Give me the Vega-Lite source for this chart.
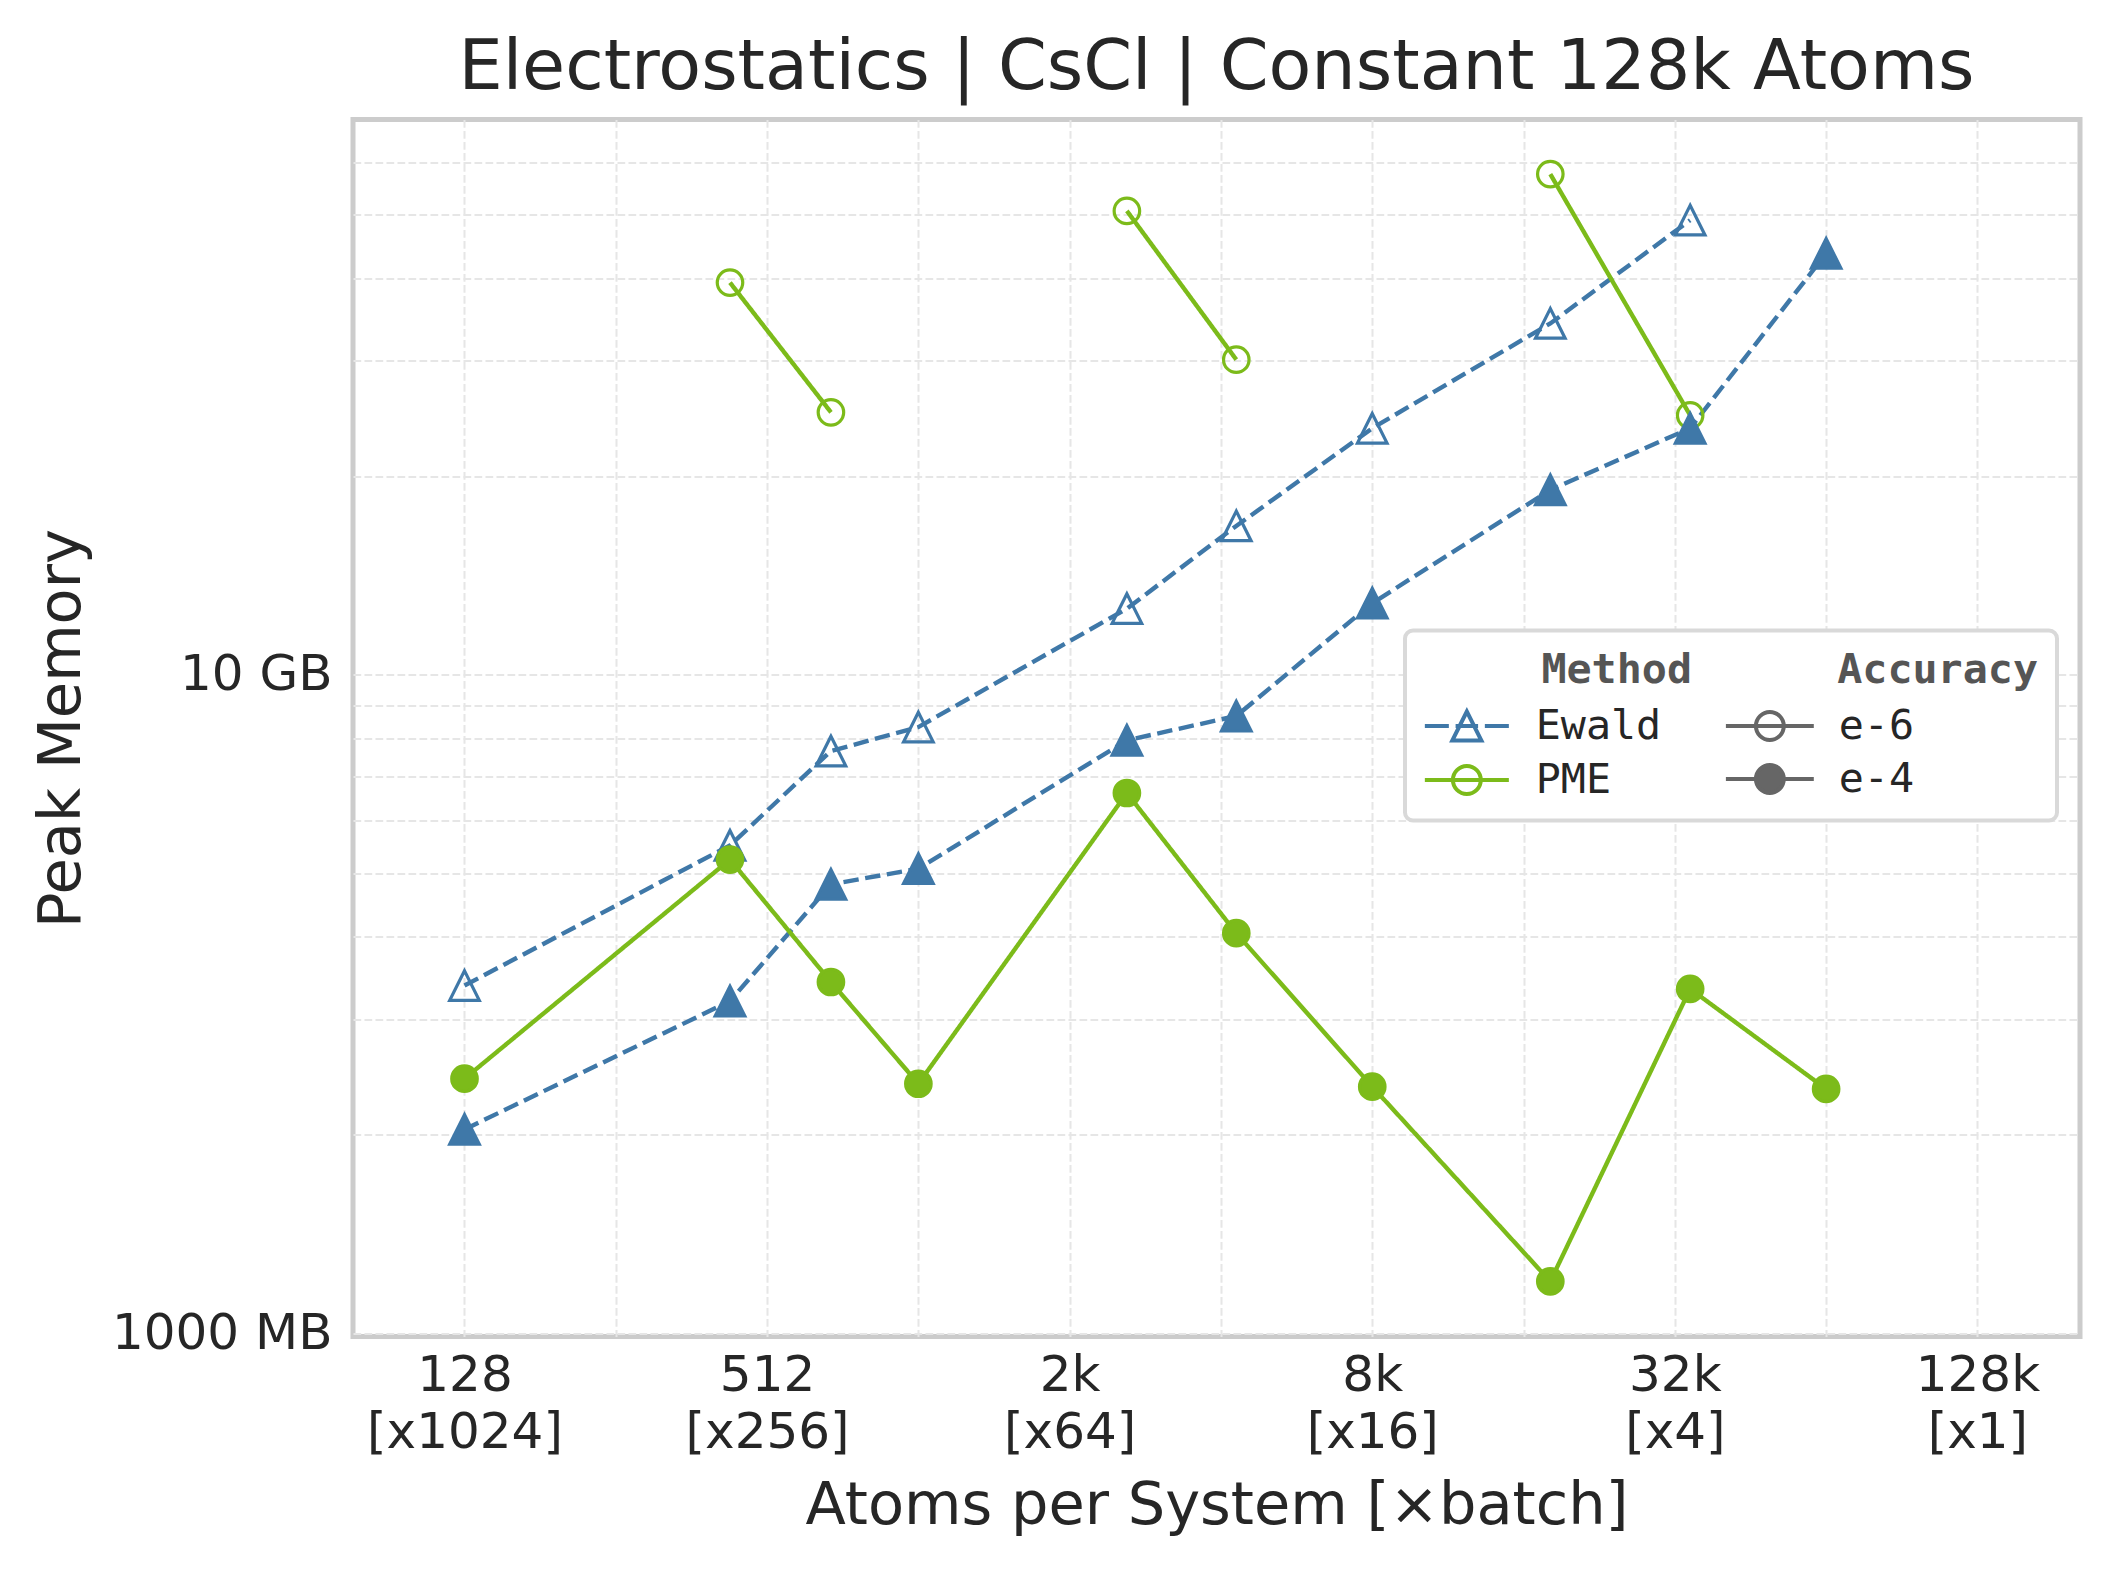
{
  "$schema": "https://vega.github.io/schema/vega-lite/v6.json",
  "width": 1727,
  "height": 1217,
  "autosize": {"type": "none"},
  "padding": {"left": 353, "top": 119.5, "right": 38, "bottom": 235.5},
  "background": "white",
  "title": {
    "text": "Electrostatics | CsCl | Constant 128k Atoms",
    "font": "DejaVu Sans",
    "fontSize": 70,
    "fontWeight": "normal",
    "color": "#262626",
    "anchor": "middle",
    "frame": "group",
    "baseline": "alphabetic",
    "offset": 28,
    "dy": 67
  },
  "data": {
    "values": [
      {"atoms": 128, "mem": 3373, "method": "Ewald", "accuracy": "e-6", "series": "Ewald e-6"},
      {"atoms": 432, "mem": 5508, "method": "Ewald", "accuracy": "e-6", "series": "Ewald e-6"},
      {"atoms": 686, "mem": 7662, "method": "Ewald", "accuracy": "e-6", "series": "Ewald e-6"},
      {"atoms": 1024, "mem": 8332, "method": "Ewald", "accuracy": "e-6", "series": "Ewald e-6"},
      {"atoms": 2662, "mem": 12610, "method": "Ewald", "accuracy": "e-6", "series": "Ewald e-6"},
      {"atoms": 4394, "mem": 16840, "method": "Ewald", "accuracy": "e-6", "series": "Ewald e-6"},
      {"atoms": 8192, "mem": 23700, "method": "Ewald", "accuracy": "e-6", "series": "Ewald e-6"},
      {"atoms": 18522, "mem": 34200, "method": "Ewald", "accuracy": "e-6", "series": "Ewald e-6"},
      {"atoms": 35152, "mem": 49080, "method": "Ewald", "accuracy": "e-6", "series": "Ewald e-6"},
      {"atoms": 432, "mem": 39450, "method": "PME", "accuracy": "e-6", "series": "PME e-6 a"},
      {"atoms": 686, "mem": 25060, "method": "PME", "accuracy": "e-6", "series": "PME e-6 a"},
      {"atoms": 2662, "mem": 50700, "method": "PME", "accuracy": "e-6", "series": "PME e-6 b"},
      {"atoms": 4394, "mem": 30130, "method": "PME", "accuracy": "e-6", "series": "PME e-6 b"},
      {"atoms": 18522, "mem": 57660, "method": "PME", "accuracy": "e-6", "series": "PME e-6 c"},
      {"atoms": 35152, "mem": 24800, "method": "PME", "accuracy": "e-6", "series": "PME e-6 c"},
      {"atoms": 128, "mem": 2039, "method": "Ewald", "accuracy": "e-4", "series": "Ewald e-4"},
      {"atoms": 432, "mem": 3194, "method": "Ewald", "accuracy": "e-4", "series": "Ewald e-4"},
      {"atoms": 686, "mem": 4806, "method": "Ewald", "accuracy": "e-4", "series": "Ewald e-4"},
      {"atoms": 1024, "mem": 5077, "method": "Ewald", "accuracy": "e-4", "series": "Ewald e-4"},
      {"atoms": 2662, "mem": 7955, "method": "Ewald", "accuracy": "e-4", "series": "Ewald e-4"},
      {"atoms": 4394, "mem": 8660, "method": "Ewald", "accuracy": "e-4", "series": "Ewald e-4"},
      {"atoms": 8192, "mem": 12850, "method": "Ewald", "accuracy": "e-4", "series": "Ewald e-4"},
      {"atoms": 18522, "mem": 19100, "method": "Ewald", "accuracy": "e-4", "series": "Ewald e-4"},
      {"atoms": 35152, "mem": 23700, "method": "Ewald", "accuracy": "e-4", "series": "Ewald e-4"},
      {"atoms": 65536, "mem": 43690, "method": "Ewald", "accuracy": "e-4", "series": "Ewald e-4"},
      {"atoms": 128, "mem": 2435, "method": "PME", "accuracy": "e-4", "series": "PME e-4"},
      {"atoms": 432, "mem": 5241, "method": "PME", "accuracy": "e-4", "series": "PME e-4"},
      {"atoms": 686, "mem": 3415, "method": "PME", "accuracy": "e-4", "series": "PME e-4"},
      {"atoms": 1024, "mem": 2392, "method": "PME", "accuracy": "e-4", "series": "PME e-4"},
      {"atoms": 2662, "mem": 6615, "method": "PME", "accuracy": "e-4", "series": "PME e-4"},
      {"atoms": 4394, "mem": 4051, "method": "PME", "accuracy": "e-4", "series": "PME e-4"},
      {"atoms": 8192, "mem": 2368, "method": "PME", "accuracy": "e-4", "series": "PME e-4"},
      {"atoms": 18522, "mem": 1198, "method": "PME", "accuracy": "e-4", "series": "PME e-4"},
      {"atoms": 35152, "mem": 3334, "method": "PME", "accuracy": "e-4", "series": "PME e-4"},
      {"atoms": 65536, "mem": 2349, "method": "PME", "accuracy": "e-4", "series": "PME e-4"}
    ]
  },
  "encoding": {
    "x": {
      "field": "atoms",
      "type": "quantitative",
      "scale": {"type": "log", "base": 2, "domain": [76.8, 209715.2], "nice": false, "zero": false},
      "axis": {
        "title": "Atoms per System [×batch]",
        "values": [128, 256, 512, 1024, 2048, 4096, 8192, 16384, 32768, 65536, 131072],
        "labelExpr": "datum.value == 128 ? ['128', '[x1024]'] : datum.value == 512 ? ['512', '[x256]'] : datum.value == 2048 ? ['2k', '[x64]'] : datum.value == 8192 ? ['8k', '[x16]'] : datum.value == 32768 ? ['32k', '[x4]'] : datum.value == 131072 ? ['128k', '[x1]'] : ''",
        "labelBaseline": "alphabetic",
        "labelPadding": 54,
        "labelLineHeight": 57,
        "titleBaseline": "alphabetic",
        "titleY": 186.5
      }
    },
    "y": {
      "field": "mem",
      "type": "quantitative",
      "scale": {"type": "log", "domain": [988, 69800], "nice": false, "zero": false},
      "axis": {
        "title": "Peak Memory",
        "values": [1000, 2000, 3000, 4000, 5000, 6000, 7000, 8000, 9000, 10000, 20000, 30000, 40000, 50000, 60000],
        "labelExpr": "datum.value == 1000 ? '1000 MB' : datum.value == 10000 ? '10 GB' : ''",
        "labelBaseline": "middle",
        "labelPadding": 21,
        "titleBaseline": "alphabetic",
        "titleX": -273.5,
        "titleY": 608.5
      }
    }
  },
  "resolve": {"scale": {"stroke": "independent", "shape": "independent", "fill": "independent"}},
  "layer": [
    {
      "mark": {"type": "line", "strokeWidth": 4.4},
      "encoding": {
        "stroke": {
          "field": "method",
          "type": "nominal",
          "scale": {"domain": ["Ewald", "PME"], "range": ["#3f78a8", "#7cbb1a"]},
          "legend": null
        },
        "strokeDash": {
          "field": "method",
          "type": "nominal",
          "scale": {"domain": ["Ewald", "PME"], "range": [[15.4, 6.6], [1, 0]]},
          "legend": null
        },
        "detail": {"field": "series", "type": "nominal"}
      }
    },
    {
      "mark": {"type": "point", "strokeWidth": 3.2, "size": 650, "opacity": 1},
      "encoding": {
        "stroke": {
          "field": "method",
          "type": "nominal",
          "scale": {"domain": ["Ewald", "PME"], "range": ["#3f78a8", "#7cbb1a"]},
          "legend": null
        },
        "fill": {
          "condition": {
            "test": "datum.accuracy === 'e-4'",
            "field": "method",
            "type": "nominal",
            "scale": {"domain": ["Ewald", "PME"], "range": ["#3f78a8", "#7cbb1a"]},
            "legend": null
          },
          "value": "transparent"
        },
        "shape": {
          "field": "method",
          "type": "nominal",
          "scale": {"domain": ["Ewald", "PME"], "range": ["M0,-1.16L-1.16,1.16L1.16,1.16Z", "circle"]},
          "legend": null
        }
      }
    },
    {
      "mark": {"type": "point", "opacity": 0, "filled": false, "stroke": "#666666", "strokeWidth": 4},
      "encoding": {
        "fill": {
          "field": "accuracy",
          "type": "nominal",
          "scale": {"domain": ["e-6", "e-4"], "range": ["transparent", "#666666"]},
          "legend": {
            "title": "Accuracy",
            "titleAnchor": "end",
            "orient": "none",
            "legendX": 1052,
            "legendY": 511,
            "fillColor": "white",
            "strokeColor": "#d9d9d9",
            "cornerRadius": 8,
            "padding": 19,
            "symbolType": "M-2.93,0L2.93,0M0.93,0A0.93,0.93 0 1,1 -0.93,0A0.93,0.93 0 1,1 0.93,0Z",
            "symbolSize": 900,
            "symbolOffset": 325,
            "symbolStrokeWidth": 4,
            "symbolStrokeColor": "#666666",
            "symbolOpacity": 1,
            "labelOffset": 48,
            "rowPadding": 8,
            "titlePadding": 14,
            "titleFont": "DejaVu Sans Mono",
            "titleFontSize": 41.7,
            "titleFontWeight": "bold",
            "titleColor": "#555555",
            "titleLimit": 1000,
            "labelFont": "DejaVu Sans Mono",
            "labelFontSize": 41.7,
            "labelColor": "#262626",
            "labelLimit": 1200,
            "labelExpr": "datum.label + '⠀⠀⠀⠀'"
          }
        }
      }
    },
    {
      "mark": {"type": "point", "opacity": 0, "strokeWidth": 4},
      "encoding": {
        "stroke": {
          "field": "method",
          "type": "nominal",
          "scale": {"domain": ["Ewald", "PME"], "range": ["#3f78a8", "#7cbb1a"]},
          "legend": {
            "title": "Method",
            "titleAnchor": "end",
            "orient": "none",
            "legendX": 1052,
            "legendY": 511,
            "padding": 19,
            "symbolSize": 900,
            "symbolOffset": 22,
            "symbolStrokeWidth": 4,
            "symbolOpacity": 1,
            "symbolFillColor": "transparent",
            "labelOffset": 48,
            "rowPadding": 8,
            "titlePadding": 14,
            "titleFont": "DejaVu Sans Mono",
            "titleFontSize": 41.7,
            "titleFontWeight": "bold",
            "titleColor": "#555555",
            "titleLimit": 1000,
            "labelFont": "DejaVu Sans Mono",
            "labelFontSize": 41.7,
            "labelColor": "#262626",
            "labelLimit": 1200,
            "labelExpr": "datum.label + '⠀'"
          }
        },
        "shape": {
          "field": "method",
          "type": "nominal",
          "scale": {
            "domain": ["Ewald", "PME"],
            "range": [
              "M-2.8,0L-1.2,0M-0.75,0L0.75,0M1.2,0L2.8,0M0,-0.97L-0.97,0.97L0.97,0.97Z",
              "M-2.8,0L2.8,0M0.93,0A0.93,0.93 0 1,1 -0.93,0A0.93,0.93 0 1,1 0.93,0Z"
            ]
          },
          "legend": {
            "title": "Method",
            "titleAnchor": "end",
            "orient": "none",
            "legendX": 1052,
            "legendY": 511,
            "padding": 19,
            "symbolSize": 900,
            "symbolOffset": 22,
            "symbolStrokeWidth": 4,
            "symbolOpacity": 1,
            "symbolFillColor": "transparent",
            "labelOffset": 48,
            "rowPadding": 8,
            "titlePadding": 14,
            "titleFont": "DejaVu Sans Mono",
            "titleFontSize": 41.7,
            "titleFontWeight": "bold",
            "titleColor": "#555555",
            "titleLimit": 1000,
            "labelFont": "DejaVu Sans Mono",
            "labelFontSize": 41.7,
            "labelColor": "#262626",
            "labelLimit": 1200,
            "labelExpr": "datum.label + '⠀'"
          }
        }
      }
    }
  ],
  "config": {
    "font": "DejaVu Sans",
    "view": {"stroke": "#cccccc", "strokeWidth": 5},
    "legend": {"strokeWidth": 4},
    "axis": {
      "domain": false,
      "ticks": false,
      "tickSize": 0,
      "grid": true,
      "gridColor": "#e6e6e6",
      "gridWidth": 2,
      "gridDash": [7.7, 3.3],
      "labelFont": "DejaVu Sans",
      "labelFontSize": 50,
      "labelColor": "#262626",
      "labelLimit": 500,
      "labelOverlap": false,
      "labelFlush": false,
      "labelBound": false,
      "titleFont": "DejaVu Sans",
      "titleFontSize": 59,
      "titleFontWeight": "normal",
      "titleColor": "#262626"
    }
  }
}
